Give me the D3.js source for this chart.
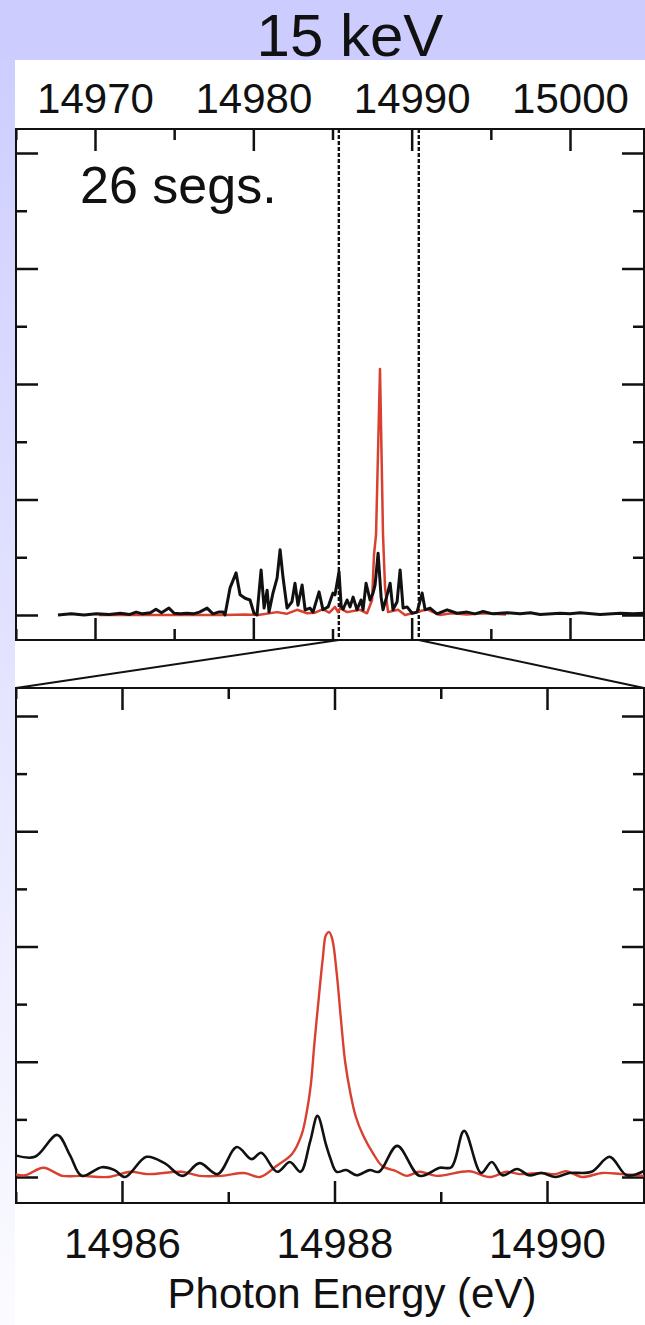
<!DOCTYPE html>
<html>
<head>
<meta charset="utf-8">
<script src="https://cdn.jsdelivr.net/npm/d3@7"></script>
<style>
	body { margin: 0; background: #fff; }
	svg { display: block; font-family: "Liberation Sans", Arial, sans-serif; }
</style>
</head>
<body>
<script>
// spectra: [photon energy (eV), intensity (tick units)]
const topBlack = [
	[14967.66, 0.0], [14968.5, 0.02], [14969.3, 0.0], [14970.1, 0.02], [14970.9, 0.01],
	[14971.6, 0.03], [14972.2, 0.01], [14972.6, 0.05], [14973.0, 0.02], [14973.5, 0.04],
	[14973.85, 0.1], [14974.2, 0.04], [14974.67, 0.12], [14975.0, 0.03], [14975.4, 0.02],
	[14975.8, 0.03], [14976.2, 0.02], [14976.6, 0.05], [14977.08, 0.12], [14977.45, 0.02],
	[14977.8, 0.05], [14978.09, 0.05], [14978.21, 0.0], [14978.53, 0.47], [14978.91, 0.73],
	[14979.16, 0.35], [14979.48, 0.29], [14979.79, 0.26], [14980.04, 0.03], [14980.23, 0.0],
	[14980.49, 0.78], [14980.68, 0.12], [14980.87, 0.43], [14980.99, 0.05], [14981.24, 0.38],
	[14981.5, 0.64], [14981.69, 1.13], [14981.88, 0.64], [14982.13, 0.12], [14982.44, 0.23],
	[14982.63, 0.55], [14982.82, 0.17], [14983.08, 0.52], [14983.27, 0.09], [14983.58, 0.12],
	[14983.77, 0.05], [14984.15, 0.4], [14984.4, 0.09], [14984.72, 0.14], [14985.03, 0.38],
	[14985.16, 0.35], [14985.41, 0.75], [14985.55, 0.15], [14985.67, 0.1], [14985.92, 0.26],
	[14986.11, 0.14], [14986.3, 0.31], [14986.55, 0.09], [14986.8, 0.26], [14986.93, 0.09],
	[14987.12, 0.55], [14987.37, 0.26], [14987.56, 0.38], [14987.69, 0.52], [14987.88, 1.07],
	[14988.07, 0.31], [14988.19, 0.09], [14988.45, 0.35], [14988.64, 0.55], [14988.82, 0.09],
	[14989.08, 0.23], [14989.27, 0.78], [14989.46, 0.12], [14989.71, 0.14], [14990.03, 0.03],
	[14990.34, 0.05], [14990.66, 0.38], [14990.85, 0.09], [14991.16, 0.12], [14991.6, 0.02],
	[14992.24, 0.09], [14992.87, 0.03], [14993.5, 0.05], [14994.0, 0.02], [14994.51, 0.06],
	[14995.14, 0.02], [14996.03, 0.04], [14996.85, 0.02], [14997.5, 0.04], [14998.11, 0.01],
	[14999.37, 0.03], [15000.0, 0.02], [15000.64, 0.04], [15001.9, 0.01], [15003.17, 0.03],
	[15004.0, 0.02], [15004.74, 0.03]
];

const topRed = [
	[14970.25, 0.0], [14975.0, 0.0], [14978.2, 0.0], [14979.5, 0.01], [14980.3, 0.0],
	[14981.5, 0.05], [14982.1, 0.02], [14982.76, 0.09], [14983.4, 0.03], [14983.9, 0.04],
	[14984.4, 0.1], [14984.8, 0.04], [14985.16, 0.14], [14985.35, 0.05], [14985.48, 0.12],
	[14985.92, 0.05], [14986.74, 0.09], [14987.18, 0.03], [14987.5, 0.26], [14987.62, 1.04],
	[14987.75, 1.39], [14988.0, 4.26], [14988.19, 1.39], [14988.32, 0.47], [14988.51, 0.05],
	[14989.14, 0.09], [14989.58, 0.0], [14990.34, 0.05], [14990.97, 0.1], [14991.35, 0.05],
	[14991.79, 0.0], [14992.5, 0.03], [14993.5, 0.01], [14994.5, 0.03], [14995.96, 0.01]
];

const bottomBlack = [
	[14984.99, 0.38], [14985.18, 0.35], [14985.39, 0.73], [14985.51, 0.38], [14985.62, 0.02],
	[14985.81, 0.17], [14985.93, 0.12], [14986.03, 0.0], [14986.23, 0.35], [14986.4, 0.24],
	[14986.57, 0.02], [14986.73, 0.24], [14986.9, 0.05], [14987.08, 0.52], [14987.22, 0.31],
	[14987.31, 0.42], [14987.46, 0.09], [14987.58, 0.26], [14987.68, 0.09], [14987.77, 0.61],
	[14987.84, 1.06], [14987.92, 0.56], [14987.96, 0.33], [14988.02, 0.09], [14988.11, 0.12],
	[14988.21, 0.03], [14988.33, 0.12], [14988.42, 0.09], [14988.59, 0.54], [14988.8, 0.02],
	[14988.99, 0.16], [14989.1, 0.17], [14989.22, 0.8], [14989.38, 0.07], [14989.48, 0.26],
	[14989.58, 0.03], [14989.72, 0.14], [14989.83, 0.03], [14989.95, 0.07], [14990.08, 0.0],
	[14990.21, 0.07], [14990.42, 0.09], [14990.59, 0.35], [14990.75, 0.03], [14990.91, 0.1]
];

const bottomRed = [
	[14984.99, 0.05], [14985.09, 0.03], [14985.26, 0.16], [14985.44, 0.02], [14985.62, 0.02],
	[14985.87, 0.0], [14986.08, 0.09], [14986.24, 0.05], [14986.56, 0.09], [14986.73, 0.02],
	[14986.94, 0.02], [14987.15, 0.07], [14987.3, 0.0], [14987.46, 0.2], [14987.6, 0.4],
	[14987.69, 0.73], [14987.75, 1.25], [14987.78, 1.65], [14987.81, 2.3], [14987.85, 3.07],
	[14987.89, 3.8], [14987.92, 4.2], [14987.95, 4.25], [14987.98, 4.12], [14988.02, 3.55],
	[14988.06, 2.75], [14988.1, 2.0], [14988.15, 1.45], [14988.2, 1.05], [14988.27, 0.72],
	[14988.36, 0.42], [14988.45, 0.19], [14988.58, 0.1], [14988.68, 0.02], [14988.8, 0.09],
	[14988.96, 0.02], [14989.27, 0.1], [14989.46, 0.0], [14989.62, 0.09], [14989.74, 0.05],
	[14989.95, 0.07], [14990.08, 0.05], [14990.18, 0.1], [14990.33, 0.0], [14990.52, 0.07],
	[14990.7, 0.05], [14990.91, 0.02]
];

const zoomWindow = [14985.4, 14990.45]; // dashed lines in the top panel
const topTicks = d3.range(14965, 15005, 5);
const topLabels = [14970, 14980, 14990, 15000];
const bottomTicks = [14985, 14986, 14987, 14988, 14989, 14990];
const bottomLabels = [14986, 14988, 14990];
const yTicks = d3.range(0, 9);

const width = 645;
const height = 1325;
const frameL = 16;
const frameR = 644;
const topPanel = { y0: 129, y1: 640 };
const botPanel = { y0: 688, y1: 1203 };

const svg = d3.select("body")
	.append("svg")
	.attr("width", width)
	.attr("height", height);

// background: lavender header and fading left strip
const defs = svg.append("defs");
const grad = defs.append("linearGradient")
	.attr("id", "strip")
	.attr("x1", 0).attr("x2", 0).attr("y1", 0).attr("y2", 1);
grad.append("stop").attr("offset", "0%").attr("stop-color", "#ccccff");
grad.append("stop").attr("offset", "100%").attr("stop-color", "#fbfbff");

svg.append("rect").attr("width", width).attr("height", height).attr("fill", "url(#strip)");
svg.append("rect").attr("width", width).attr("height", 60).attr("fill", "#ccccff");
svg.append("rect").attr("x", 15).attr("y", 60).attr("width", width - 15).attr("height", height - 60).attr("fill", "#fff");

svg.append("text")
	.attr("x", 350)
	.attr("y", 56)
	.attr("text-anchor", "middle")
	.attr("font-size", 60)
	.attr("fill", "#111")
	.text("15 keV");

// scales
const xTop = d3.scaleLinear().domain([14970, 15000]).range([95, 570]);
const yTop = d3.scaleLinear().domain([0, 8]).range([615, 153]);
const xBot = d3.scaleLinear().domain([14986, 14990]).range([122, 547]);
const yBot = d3.scaleLinear().domain([0, 8]).range([1177, 716]);

const drawTicks = (g, xs, ys, p, xTickVals, isMajorX) => {
	const long = 22, short = 11;
	// x ticks on top and bottom edges, pointing in
	const xAxisTop = g.append("g").attr("transform", `translate(0 ${p.y0})`)
		.call(d3.axisBottom(xs).tickValues(xTickVals).tickFormat(""));
	xAxisTop.selectAll(".tick line").attr("y2", (d) => (isMajorX(d) ? long : short));
	const xAxisBot = g.append("g").attr("transform", `translate(0 ${p.y1})`)
		.call(d3.axisTop(xs).tickValues(xTickVals).tickFormat(""));
	xAxisBot.selectAll(".tick line").attr("y2", (d) => (isMajorX(d) ? -long : -short));
	// y ticks on left and right edges, pointing in
	const yAxisL = g.append("g").attr("transform", `translate(${frameL} 0)`)
		.call(d3.axisRight(ys).tickValues(yTicks).tickFormat(""));
	yAxisL.selectAll(".tick line").attr("x2", (d) => (d % 2 === 0 ? long : short));
	const yAxisR = g.append("g").attr("transform", `translate(${frameR} 0)`)
		.call(d3.axisLeft(ys).tickValues(yTicks).tickFormat(""));
	yAxisR.selectAll(".tick line").attr("x2", (d) => (d % 2 === 0 ? -long : -short));
	g.selectAll(".domain").remove();
	g.selectAll(".tick line").attr("stroke", "#111").attr("stroke-width", 2.5);
	// frame
	g.append("rect")
		.attr("x", frameL).attr("y", p.y0)
		.attr("width", frameR - frameL).attr("height", p.y1 - p.y0)
		.attr("fill", "none").attr("stroke", "#111").attr("stroke-width", 2);
};

// top panel
const topG = svg.append("g");
drawTicks(topG, xTop, yTop, topPanel, topTicks, (d) => d % 10 === 0);

const clipTop = defs.append("clipPath").attr("id", "clipTop");
clipTop.append("rect").attr("x", frameL).attr("y", topPanel.y0).attr("width", frameR - frameL).attr("height", topPanel.y1 - topPanel.y0);
const clipBot = defs.append("clipPath").attr("id", "clipBot");
clipBot.append("rect").attr("x", frameL).attr("y", botPanel.y0).attr("width", frameR - frameL).attr("height", botPanel.y1 - botPanel.y0);

const lineTop = d3.line().x((d) => xTop(d[0])).y((d) => yTop(d[1]));

topG.append("g").attr("clip-path", "url(#clipTop)")
	.selectAll("line.zoom")
	.data(zoomWindow)
	.join("line")
	.attr("x1", (d) => xTop(d)).attr("x2", (d) => xTop(d))
	.attr("y1", topPanel.y0).attr("y2", topPanel.y1)
	.attr("stroke", "#111").attr("stroke-width", 2.4).attr("stroke-dasharray", "4,2");

topG.append("path")
	.attr("clip-path", "url(#clipTop)")
	.attr("d", lineTop(topRed))
	.attr("fill", "none").attr("stroke", "#d8402f").attr("stroke-width", 2.5).attr("stroke-linejoin", "round");
topG.append("path")
	.attr("clip-path", "url(#clipTop)")
	.attr("d", lineTop(topBlack))
	.attr("fill", "none").attr("stroke", "#111").attr("stroke-width", 3).attr("stroke-linejoin", "round");

topG.append("g")
	.attr("transform", `translate(0 113)`)
	.call(d3.axisTop(xTop).tickValues(topLabels).tickSize(0).tickPadding(0).tickFormat(d3.format("d")))
	.call((g) => g.select(".domain").remove())
	.selectAll("text")
	.attr("font-size", 42)
	.attr("font-family", "Liberation Sans, Arial, sans-serif")
	.attr("fill", "#111")
	.attr("dy", 0);

topG.append("text")
	.attr("x", 80).attr("y", 203)
	.attr("font-size", 52)
	.attr("fill", "#111")
	.text("26 segs.");

// zoom connector
const connector = [
	[[xTop(zoomWindow[0]), topPanel.y1], [frameL, botPanel.y0]],
	[[xTop(zoomWindow[1]), topPanel.y1], [frameR, botPanel.y0]]
];
svg.append("g")
	.selectAll("line")
	.data(connector)
	.join("line")
	.attr("x1", (d) => d[0][0]).attr("y1", (d) => d[0][1])
	.attr("x2", (d) => d[1][0]).attr("y2", (d) => d[1][1])
	.attr("stroke", "#111").attr("stroke-width", 2);

// bottom panel
const botG = svg.append("g");
drawTicks(botG, xBot, yBot, botPanel, bottomTicks, (d) => d % 2 === 0);

const lineBot = d3.line().curve(d3.curveCatmullRom.alpha(0.5)).x((d) => xBot(d[0])).y((d) => yBot(d[1]));

botG.append("path")
	.attr("clip-path", "url(#clipBot)")
	.attr("d", lineBot(bottomRed))
	.attr("fill", "none").attr("stroke", "#d8402f").attr("stroke-width", 2.4);
botG.append("path")
	.attr("clip-path", "url(#clipBot)")
	.attr("d", lineBot(bottomBlack))
	.attr("fill", "none").attr("stroke", "#111").attr("stroke-width", 2.6);

botG.append("g")
	.attr("transform", `translate(0 1258)`)
	.call(d3.axisTop(xBot).tickValues(bottomLabels).tickSize(0).tickPadding(0).tickFormat(d3.format("d")))
	.call((g) => g.select(".domain").remove())
	.selectAll("text")
	.attr("font-size", 42)
	.attr("font-family", "Liberation Sans, Arial, sans-serif")
	.attr("fill", "#111")
	.attr("dy", 0);

svg.append("text")
	.attr("x", 352).attr("y", 1308)
	.attr("text-anchor", "middle")
	.attr("font-size", 42)
	.attr("fill", "#111")
	.text("Photon Energy (eV)");
</script>
</body>
</html>
